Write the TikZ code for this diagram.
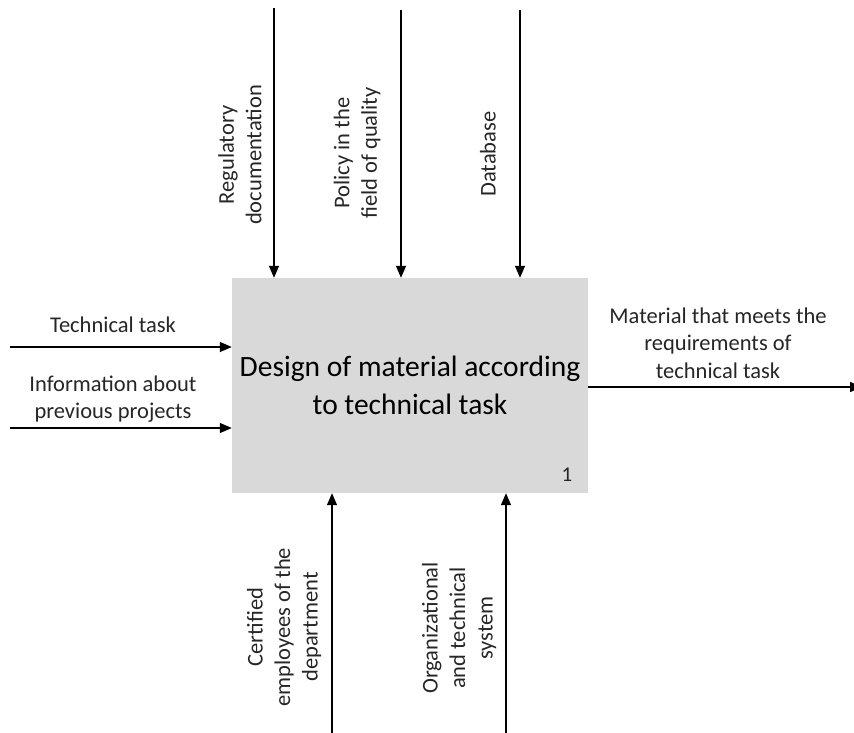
\documentclass[tikz,border=0pt]{standalone}
\usepackage{fontspec}
\setmainfont{Carlito}
\usetikzlibrary{arrows.meta, calc}

\begin{document}
\begin{tikzpicture}[
x=1pt, y=-1pt,
>={Triangle[length=12pt, width=10pt]},
func/.style={
fill=black!15,
inner sep=0pt,
minimum width=356pt,
minimum height=215pt,
align=center,
font=\fontsize{29.5}{38}\selectfont
},
flow/.style={->, line width=1.4pt},
lab/.style={align=center, text=black!85, font=\fontsize{22.5}{27.5}\selectfont},
vlab/.style={lab, rotate=90}
]

\clip (0,0) rectangle (854,732);
\useasboundingbox (0,0) rectangle (854,732);

% Function block
\node[func] (box) at (410,385.5) {Design of material according\\to technical task};
\node[font=\fontsize{21}{24}\selectfont, text=black!85] (num) at (567,475) {1};

% Controls
\coordinate (reg) at (274,8);
\coordinate (pol) at (401,10);
\coordinate (dat) at (520,10);
\draw[flow] (reg) -- (reg |- box.north);
\draw[flow] (pol) -- (pol |- box.north);
\draw[flow] (dat) -- (dat |- box.north);
\node[vlab] (reg-lab) at (240,155) {Regulatory\\documentation};
\node[vlab] (pol-lab) at (357,153) {Policy in the\\field of quality};
\node[vlab] (dat-lab) at (488,154) {Database};

% Inputs
\coordinate (tt) at (10,347);
\coordinate (info) at (10,428);
\draw[flow] (tt) -- (tt -| box.west);
\draw[flow] (info) -- (info -| box.west);
\node[lab] (tt-lab) at (113,325) {Technical task};
\node[lab] (info-lab) at (113,399) {Information about\\previous projects};

% Output
\coordinate (out) at (862,387);
\draw[flow] (out -| box.east) -- (out);
\node[lab] (out-lab) at (718,343) {Material that meets the\\requirements of\\technical task};

% Mechanisms
\coordinate (emp) at (332,740);
\coordinate (sys) at (506,740);
\draw[flow] (emp) -- (emp |- box.south);
\draw[flow] (sys) -- (sys |- box.south);
\node[vlab] (emp-lab) at (284,627) {Certified\\employees of the\\department};
\node[vlab] (sys-lab) at (459,628) {Organizational\\and technical\\system};

\end{tikzpicture}
\end{document}
